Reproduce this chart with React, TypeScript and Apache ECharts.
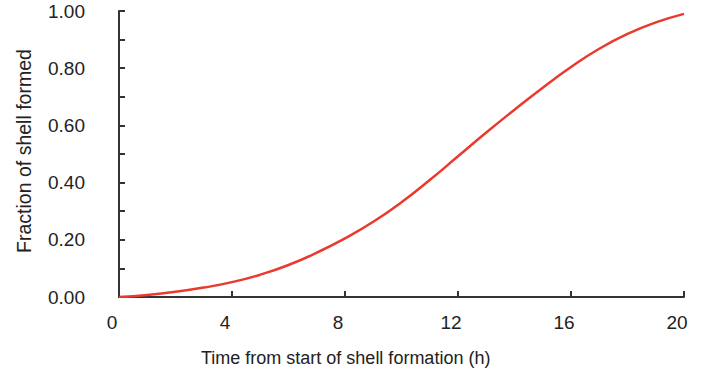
import React, { useEffect, useRef } from "react";
import * as echarts from "echarts";

const hours = [0, 1, 2, 3, 4, 5, 6, 7, 8, 9, 10, 11, 12, 13, 14, 15, 16, 17, 18, 19, 20];
const fraction = [0, 0.007, 0.018, 0.033, 0.052, 0.078, 0.112, 0.155, 0.205, 0.263, 0.331, 0.409, 0.492, 0.575, 0.655, 0.732, 0.804, 0.868, 0.92, 0.96, 0.99];
const xTitle = "Time from start of shell formation (h)";
const yTitle = "Fraction of shell formed";

export default function App() {
  const ref = useRef<HTMLDivElement>(null);
  useEffect(() => {
    const chart = echarts.init(ref.current!, null, { renderer: "svg" });
    const font = "Liberation Sans, Arial, sans-serif";
    chart.setOption({
      animation: false,
      grid: { left: 119, right: 20, top: 11, bottom: 80, containLabel: false, outerBoundsMode: "none" },
      xAxis: {
        type: "value",
        min: 0,
        max: 20,
        interval: 4,
        axisLine: { show: true, lineStyle: { color: "#333", width: 2 } },
        axisTick: { show: true, inside: true, length: 6, lineStyle: { color: "#333", width: 2 } },
        axisLabel: { color: "#222", fontSize: 19, fontFamily: font, margin: 16, padding: [0, 14, 0, 0] },
        splitLine: { show: false },
      },
      yAxis: {
        type: "value",
        min: 0,
        max: 1,
        interval: 0.2,
        axisLine: { show: true, lineStyle: { color: "#333", width: 2 } },
        axisTick: { show: true, inside: true, length: 6, lineStyle: { color: "#333", width: 2 } },
        minorTick: { show: true, splitNumber: 2, length: 6, lineStyle: { color: "#333", width: 2 } },
        axisLabel: {
          color: "#222",
          fontSize: 19,
          fontFamily: font,
          margin: 34,
          padding: [10, 0, 0, 0],
          formatter: (v: number) => v.toFixed(2),
        },
        splitLine: { show: false },
      },
      graphic: [
        {
          type: "text",
          left: 201,
          top: 349,
          style: { text: xTitle, fontSize: 18, fontFamily: font, fill: "#222" },
        },
        {
          type: "text",
          x: 14,
          y: 151,
          rotation: Math.PI / 2,
          style: {
            text: yTitle,
            fontSize: 19.5,
            fontFamily: font,
            fill: "#222",
            align: "center",
            verticalAlign: "top",
          },
        },
      ],
      series: [
        {
          type: "line",
          data: hours.map((h, i) => [h, fraction[i]]),
          smooth: 0.5,
          showSymbol: false,
          lineStyle: { color: "#ea3a2e", width: 2.5 },
        },
      ],
    });
    return () => chart.dispose();
  }, []);
  return <div ref={ref} style={{ width: 704, height: 377, position: "absolute", left: 0, top: 0, background: "#fff" }} />;
}
